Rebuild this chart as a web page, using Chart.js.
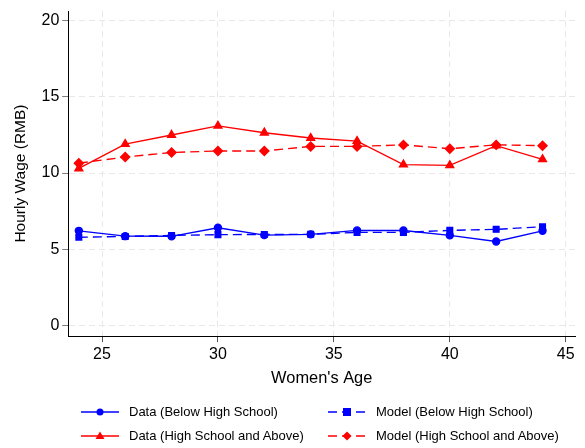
<!DOCTYPE html>
<html><head><meta charset="utf-8">
<script src="https://cdn.jsdelivr.net/npm/chart.js@4.4.0/dist/chart.umd.min.js"></script>
<style>
html,body{margin:0;padding:0;background:#fff;}
#wrap{position:relative;width:585px;height:448px;}
#c{position:absolute;left:0;top:0;}
#legend{position:absolute;left:0;top:0;width:585px;height:448px;pointer-events:none;font-family:"Liberation Sans",Arial,sans-serif;font-size:13px;color:#000;}
.li{position:absolute;display:flex;align-items:center;white-space:nowrap;}
.li svg{margin-right:10px;}
</style>
</head><body>
<div id="wrap"><canvas id="c" width="585" height="448"></canvas><div id="legend"></div></div>
<script>
const ages = [24, 26, 28, 30, 32, 34, 36, 38, 40, 42, 44];
const dataBelowHS = [6.2, 5.85, 5.84, 6.4, 5.92, 5.97, 6.23, 6.22, 5.9, 5.5, 6.2];
const modelBelowHS = [5.78, 5.83, 5.9, 5.95, 5.96, 5.97, 6.1, 6.1, 6.23, 6.3, 6.47];
const dataHSAbove = [10.3, 11.9, 12.5, 13.1, 12.65, 12.3, 12.1, 10.55, 10.5, 11.8, 10.9];
const modelHSAbove = [10.65, 11.05, 11.35, 11.45, 11.45, 11.75, 11.75, 11.85, 11.6, 11.85, 11.8];
const xTicks = [25, 30, 35, 40, 45];
const yTicks = [0, 5, 10, 15, 20];
const seriesNames = ["Data (Below High School)", "Model (Below High School)", "Data (High School and Above)", "Model (High School and Above)"];

const BLUE = '#0000ff', RED = '#ff0000';
function pts(vals){ return ages.map((a,i)=>({x:a,y:vals[i]})); }
const FONT = '"Liberation Sans", Arial, sans-serif';

const datasets = [
  {label:seriesNames[0], data:pts(dataBelowHS), borderColor:BLUE, backgroundColor:BLUE, pointStyle:'circle', pointRadius:3.5, borderWidth:1.4},
  {label:seriesNames[1], data:pts(modelBelowHS), borderColor:BLUE, backgroundColor:BLUE, pointStyle:'rect', pointRadius:4, borderWidth:1.4, borderDash:[9,5]},
  {label:seriesNames[2], data:pts(dataHSAbove), borderColor:RED, backgroundColor:RED, pointStyle:'triangle', pointRadius:4.5, borderWidth:1.4},
  {label:seriesNames[3], data:pts(modelHSAbove), borderColor:RED, backgroundColor:RED, pointStyle:'rectRot', pointRadius:4.5, borderWidth:1.4, borderDash:[9,5]}
];

new Chart(document.getElementById('c'), {
  type:'line',
  data:{datasets},
  options:{
    responsive:false, animation:false, devicePixelRatio:1,
    layout:{padding:{left:11, right:10, top:0, bottom:60}},
    plugins:{legend:{display:false}, tooltip:{enabled:false}},
    elements:{line:{tension:0}, point:{borderWidth:1}},
    scales:{
      x:{type:'linear', min:23.55, max:45.4,
        afterBuildTicks:(s)=>{s.ticks = xTicks.map(v=>({value:v}));},
        grid:{color:'#e8e8e8', tickColor:'#555', tickLength:6, tickBorderDash:[1,0]},
        border:{color:'#000', width:1, dash:[6,4]},
        ticks:{color:'#000', font:{family:FONT, size:16}, padding:3, maxRotation:0},
        title:{display:true, text:"Women's Age", color:'#000', font:{family:FONT, size:16.4}, padding:{top:1, bottom:0}}
      },
      y:{type:'linear', min:-0.72, max:20.65,
        afterBuildTicks:(s)=>{s.ticks = yTicks.map(v=>({value:v}));},
        grid:{color:'#e8e8e8', tickColor:'#555', tickLength:6, tickBorderDash:[1,0]},
        border:{color:'#000', width:1, dash:[6,4]},
        ticks:{color:'#000', font:{family:FONT, size:16, lineHeight:1}, padding:3},
        title:{display:true, text:'Hourly Wage (RMB)', color:'#000', font:{family:FONT, size:15.5}, padding:{top:0, bottom:9}}
      }
    }
  }
});

// HTML legend
const legendPos = [[81,412],[328,412],[81,436],[328,436]];
const icons = ['circle','rect','triangle','diamond'];
const cols = [BLUE,BLUE,RED,RED];
const dashed = [false,true,false,true];
const lg = document.getElementById('legend');
seriesNames.forEach((name,i)=>{
  const c = cols[i];
  let m='';
  if(icons[i]==='circle') m=`<circle cx="19" cy="7" r="3.5" fill="${c}"/>`;
  if(icons[i]==='rect') m=`<rect x="15" y="3" width="8" height="8" fill="${c}"/>`;
  if(icons[i]==='triangle') m=`<polygon points="19,2.5 23.5,10 14.5,10" fill="${c}"/>`;
  if(icons[i]==='diamond') m=`<polygon points="19,2.5 23.5,7 19,11.5 14.5,7" fill="${c}"/>`;
  const line = `<line x1="0" y1="7" x2="38" y2="7" stroke="${c}" stroke-width="1.4" ${dashed[i]?'stroke-dasharray="9,5"':''}/>`;
  const d = document.createElement('div');
  d.className='li';
  d.style.left=legendPos[i][0]+'px';
  d.style.top=(legendPos[i][1]-8)+'px';
  d.innerHTML=`<svg width="38" height="14">${line}${m}</svg><span>${name}</span>`;
  lg.appendChild(d);
});
</script>
</body></html>
